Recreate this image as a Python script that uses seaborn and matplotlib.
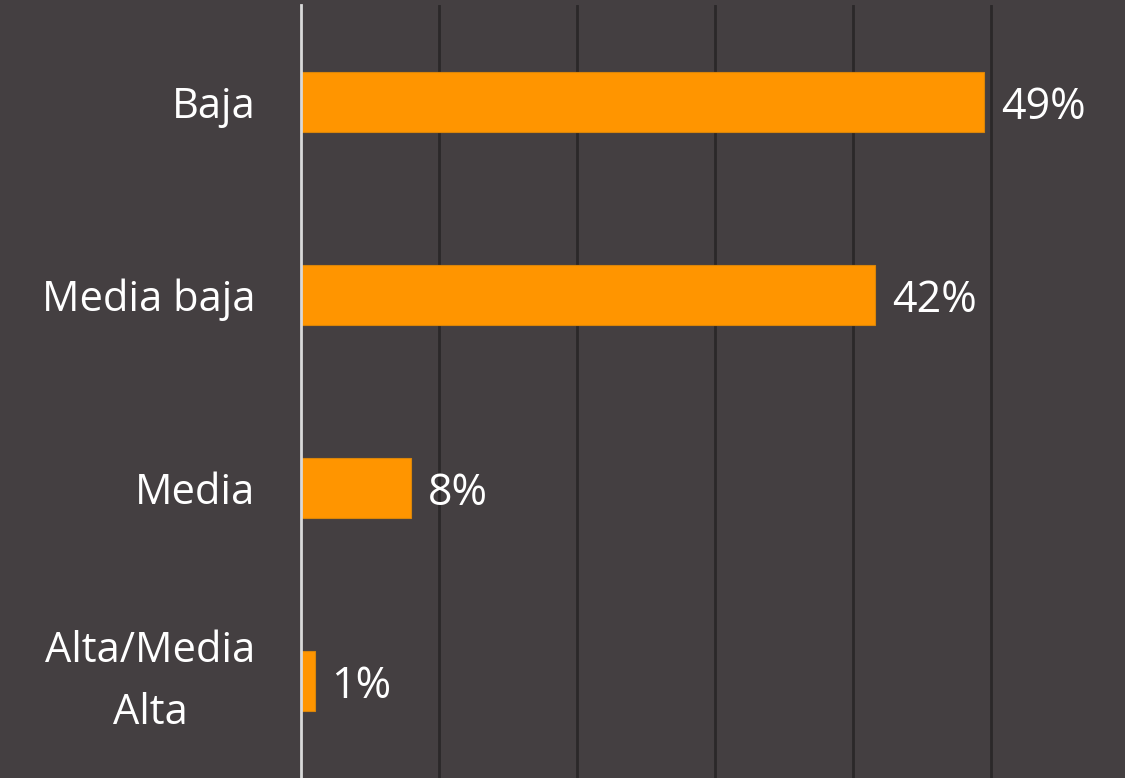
import matplotlib
matplotlib.use("Agg")
from matplotlib import pyplot as plt
import matplotlib.transforms as mtransforms
import seaborn as sns
import pandas as pd

# datos
categorias = ['Baja', 'Media baja', 'Media', 'Alta/Media\nAlta']
valores = [49.5, 41.6, 8.0, 1.0]
etiquetas = ['49%', '42%', '8%', '1%']

fondo = '#443F41'
naranja = '#FF9500'

sns.set_theme(style='dark')
plt.rcParams['font.family'] = ['Open Sans', 'DejaVu Sans']

df = pd.DataFrame({'categoria': categorias, 'valor': valores})

fig = plt.figure(figsize=(11.25, 7.78), dpi=100, facecolor=fondo)
ax = fig.add_axes([0.2676, 0.0, 0.7324, 0.9936])
ax.set_facecolor(fondo)

sns.barplot(data=df, x='valor', y='categoria', color=naranja, saturation=1,
            width=0.31, edgecolor='#D9850A', linewidth=0.8, ax=ax, zorder=3)

for i, (v, t) in enumerate(zip(valores, etiquetas)):
    ax.text(v + 1.2, i + 0.03, t, va='center', ha='left', color='white', fontsize=31, zorder=4)

ax.set_xlim(0, 59.7)
ax.set_ylim(3.5, -0.5)
ax.set_xticks([10, 20, 30, 40, 50])
ax.set_xticklabels([])
ax.grid(axis='x', color='#2B2829', linewidth=2, zorder=0)
ax.grid(axis='y', visible=False)
ax.tick_params(axis='x', length=0)
ax.tick_params(axis='y', length=0, pad=33, labelsize=30, labelcolor='white')
# etiqueta de dos lineas un poco mas arriba
subir = mtransforms.ScaledTranslation(0, 10 / 72, fig.dpi_scale_trans)
for lbl in ax.get_yticklabels():
    lbl.set_multialignment('center')
    lbl.set_linespacing(1.6)
    if '\n' in lbl.get_text():
        lbl.set_transform(lbl.get_transform() + subir)
ax.set_xlabel('')
ax.set_ylabel('')
for s in ['top', 'right', 'bottom']:
    ax.spines[s].set_visible(False)
ax.spines['left'].set_color('#D9D9D9')
ax.spines['left'].set_linewidth(2)
ax.spines['left'].set_zorder(5)

fig.savefig('out.png', dpi=100, facecolor=fondo)
